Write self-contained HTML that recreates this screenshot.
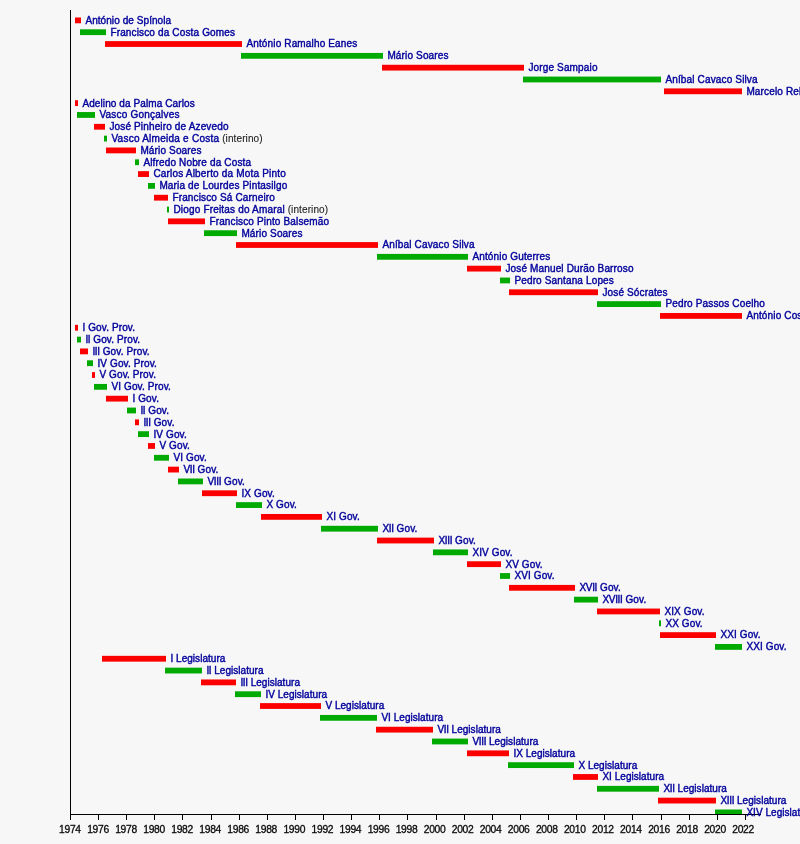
<!DOCTYPE html>
<html lang="pt">
<head>
<meta charset="utf-8">
<title>Cronologia – Presidentes, Primeiros-Ministros, Governos e Legislaturas de Portugal</title>
<style>
html,body{margin:0;padding:0;background:#f7f7f7;}
body{width:800px;height:844px;overflow:hidden;}
svg{display:block;}
text{font-family:"Liberation Sans",Arial,Helvetica,sans-serif;}
.l{font-size:10.0px;letter-spacing:0.15px;fill:#02029c;stroke:#02029c;stroke-width:0.4px;}
.lg{letter-spacing:0.04px;}
.gv{letter-spacing:0.12px;}
.ii{letter-spacing:-0.3px;}
.n{fill:#1c1c1c;stroke:#1c1c1c;stroke-width:0.1px;letter-spacing:0.1px;}
.a{font-size:10.3px;letter-spacing:-0.3px;fill:#0a0a0a;stroke:#0a0a0a;stroke-width:0.3px;text-anchor:middle;}
.r{fill:#fc0000;}
.g{fill:#00aa00;}
</style>
</head>
<body>
<svg width="800" height="844" viewBox="0 0 800 844">
<rect x="0" y="0" width="800" height="844" fill="#f7f7f7"/>

<g>
<rect class="r" x="75" y="17.48" width="6" height="5.80"/>
<rect class="g" x="80" y="29.30" width="26" height="5.80"/>
<rect class="r" x="105" y="41.12" width="137" height="5.80"/>
<rect class="g" x="241" y="52.94" width="142" height="5.80"/>
<rect class="r" x="382" y="64.77" width="142" height="5.80"/>
<rect class="g" x="523" y="76.59" width="138" height="5.80"/>
<rect class="r" x="664" y="88.41" width="78" height="5.80"/>
<rect class="r" x="75" y="100.23" width="3" height="5.80"/>
<rect class="g" x="77" y="112.05" width="18" height="5.80"/>
<rect class="r" x="94" y="123.87" width="11" height="5.80"/>
<rect class="g" x="104" y="135.69" width="3" height="5.80"/>
<rect class="r" x="106" y="147.52" width="30" height="5.80"/>
<rect class="g" x="135" y="159.34" width="4" height="5.80"/>
<rect class="r" x="138" y="171.16" width="11" height="5.80"/>
<rect class="g" x="148" y="182.98" width="7" height="5.80"/>
<rect class="r" x="154" y="194.80" width="14" height="5.80"/>
<rect class="g" x="167" y="206.62" width="2" height="5.80"/>
<rect class="r" x="168" y="218.44" width="37" height="5.80"/>
<rect class="g" x="204" y="230.27" width="33" height="5.80"/>
<rect class="r" x="236" y="242.09" width="142" height="5.80"/>
<rect class="g" x="377" y="253.91" width="91" height="5.80"/>
<rect class="r" x="467" y="265.73" width="34" height="5.80"/>
<rect class="g" x="500" y="277.55" width="10" height="5.80"/>
<rect class="r" x="509" y="289.37" width="89" height="5.80"/>
<rect class="g" x="597" y="301.19" width="64" height="5.80"/>
<rect class="r" x="660" y="313.02" width="82" height="5.80"/>
<rect class="r" x="75" y="324.84" width="3" height="5.80"/>
<rect class="g" x="77" y="336.66" width="4" height="5.80"/>
<rect class="r" x="80" y="348.48" width="8" height="5.80"/>
<rect class="g" x="87" y="360.30" width="6" height="5.80"/>
<rect class="r" x="92" y="372.12" width="3" height="5.80"/>
<rect class="g" x="94" y="383.94" width="13" height="5.80"/>
<rect class="r" x="106" y="395.76" width="22" height="5.80"/>
<rect class="g" x="127" y="407.59" width="9" height="5.80"/>
<rect class="r" x="135" y="419.41" width="4" height="5.80"/>
<rect class="g" x="138" y="431.23" width="11" height="5.80"/>
<rect class="r" x="148" y="443.05" width="7" height="5.80"/>
<rect class="g" x="154" y="454.87" width="15" height="5.80"/>
<rect class="r" x="168" y="466.69" width="11" height="5.80"/>
<rect class="g" x="178" y="478.51" width="25" height="5.80"/>
<rect class="r" x="202" y="490.34" width="35" height="5.80"/>
<rect class="g" x="236" y="502.16" width="26" height="5.80"/>
<rect class="r" x="261" y="513.98" width="61" height="5.80"/>
<rect class="g" x="321" y="525.80" width="57" height="5.80"/>
<rect class="r" x="377" y="537.62" width="57" height="5.80"/>
<rect class="g" x="433" y="549.44" width="35" height="5.80"/>
<rect class="r" x="467" y="561.26" width="34" height="5.80"/>
<rect class="g" x="500" y="573.09" width="10" height="5.80"/>
<rect class="r" x="509" y="584.91" width="66" height="5.80"/>
<rect class="g" x="574" y="596.73" width="24" height="5.80"/>
<rect class="r" x="597" y="608.55" width="63" height="5.80"/>
<rect class="g" x="659" y="620.37" width="2" height="5.80"/>
<rect class="r" x="660" y="632.19" width="56" height="5.80"/>
<rect class="g" x="715" y="644.01" width="27" height="5.80"/>
<rect class="r" x="102" y="655.84" width="64" height="5.80"/>
<rect class="g" x="165" y="667.66" width="37" height="5.80"/>
<rect class="r" x="201" y="679.48" width="35" height="5.80"/>
<rect class="g" x="235" y="691.30" width="26" height="5.80"/>
<rect class="r" x="260" y="703.12" width="61" height="5.80"/>
<rect class="g" x="320" y="714.94" width="57" height="5.80"/>
<rect class="r" x="376" y="726.76" width="57" height="5.80"/>
<rect class="g" x="432" y="738.59" width="36" height="5.80"/>
<rect class="r" x="467" y="750.41" width="42" height="5.80"/>
<rect class="g" x="508" y="762.23" width="66" height="5.80"/>
<rect class="r" x="573" y="774.05" width="25" height="5.80"/>
<rect class="g" x="597" y="785.87" width="62" height="5.80"/>
<rect class="r" x="658" y="797.69" width="58" height="5.80"/>
<rect class="g" x="715" y="809.51" width="27" height="4.99"/>
</g><g shape-rendering="crispEdges">
<rect x="70" y="10" width="1" height="805" fill="#000"/>
<rect x="70" y="814" width="691" height="1" fill="#000"/>
<rect x="70" y="815" width="1" height="5" fill="#000"/>
<rect x="98" y="815" width="1" height="5" fill="#000"/>
<rect x="126" y="815" width="1" height="5" fill="#000"/>
<rect x="154" y="815" width="1" height="5" fill="#000"/>
<rect x="182" y="815" width="1" height="5" fill="#000"/>
<rect x="211" y="815" width="1" height="5" fill="#000"/>
<rect x="239" y="815" width="1" height="5" fill="#000"/>
<rect x="267" y="815" width="1" height="5" fill="#000"/>
<rect x="295" y="815" width="1" height="5" fill="#000"/>
<rect x="323" y="815" width="1" height="5" fill="#000"/>
<rect x="351" y="815" width="1" height="5" fill="#000"/>
<rect x="379" y="815" width="1" height="5" fill="#000"/>
<rect x="407" y="815" width="1" height="5" fill="#000"/>
<rect x="436" y="815" width="1" height="5" fill="#000"/>
<rect x="464" y="815" width="1" height="5" fill="#000"/>
<rect x="492" y="815" width="1" height="5" fill="#000"/>
<rect x="520" y="815" width="1" height="5" fill="#000"/>
<rect x="548" y="815" width="1" height="5" fill="#000"/>
<rect x="576" y="815" width="1" height="5" fill="#000"/>
<rect x="604" y="815" width="1" height="5" fill="#000"/>
<rect x="632" y="815" width="1" height="5" fill="#000"/>
<rect x="661" y="815" width="1" height="5" fill="#000"/>
<rect x="689" y="815" width="1" height="5" fill="#000"/>
<rect x="717" y="815" width="1" height="5" fill="#000"/>
<rect x="745" y="815" width="1" height="5" fill="#000"/>
</g>
<text class="l" style="letter-spacing:0.07px" x="85.4" y="23.75">António de Spínola</text>
<text class="l" x="110.4" y="35.57">Francisco da Costa Gomes</text>
<text class="l" x="246.4" y="47.39">António Ramalho Eanes</text>
<text class="l" x="387.4" y="59.21">Mário Soares</text>
<text class="l" x="528.4" y="71.04">Jorge Sampaio</text>
<text class="l" x="665.4" y="82.86">Aníbal Cavaco Silva</text>
<text class="l" x="746.4" y="94.68">Marcelo Rebelo de Sousa</text>
<text class="l" style="letter-spacing:0.1px" x="82.4" y="106.50">Adelino da Palma Carlos</text>
<text class="l" style="letter-spacing:0.21px" x="99.4" y="118.32">Vasco Gonçalves</text>
<text class="l" x="109.4" y="130.14">José Pinheiro de Azevedo</text>
<text class="l" style="letter-spacing:0.25px" x="111.4" y="141.96">Vasco Almeida e Costa<tspan class="n"> (interino)</tspan></text>
<text class="l" x="140.4" y="153.79">Mário Soares</text>
<text class="l" x="143.4" y="165.61">Alfredo Nobre da Costa</text>
<text class="l" style="letter-spacing:0.19px" x="153.4" y="177.43">Carlos Alberto da Mota Pinto</text>
<text class="l" x="159.4" y="189.25">Maria de Lourdes Pintasilgo</text>
<text class="l" x="172.4" y="201.07">Francisco Sá Carneiro</text>
<text class="l" style="letter-spacing:0.18px" x="173.4" y="212.89">Diogo Freitas do Amaral<tspan class="n"> (interino)</tspan></text>
<text class="l" x="209.4" y="224.71">Francisco Pinto Balsemão</text>
<text class="l" x="241.4" y="236.54">Mário Soares</text>
<text class="l" x="382.4" y="248.36">Aníbal Cavaco Silva</text>
<text class="l" x="472.4" y="260.18">António Guterres</text>
<text class="l" x="505.4" y="272.00">José Manuel Durão Barroso</text>
<text class="l" x="514.4" y="283.82">Pedro Santana Lopes</text>
<text class="l" x="602.4" y="295.64">José Sócrates</text>
<text class="l" x="665.4" y="307.46">Pedro Passos Coelho</text>
<text class="l" x="746.4" y="319.29">António Costa</text>
<text class="l gv" x="82.4" y="331.11">I Gov. Prov.</text>
<text class="l gv" x="85.4" y="342.93"><tspan class="ii">II</tspan> Gov. Prov.</text>
<text class="l gv" x="92.4" y="354.75"><tspan class="ii">III</tspan> Gov. Prov.</text>
<text class="l gv" x="97.4" y="366.57">IV Gov. Prov.</text>
<text class="l gv" x="99.4" y="378.39">V Gov. Prov.</text>
<text class="l gv" x="111.4" y="390.21">VI Gov. Prov.</text>
<text class="l gv" x="132.4" y="402.03">I Gov.</text>
<text class="l gv" x="140.4" y="413.86"><tspan class="ii">II</tspan> Gov.</text>
<text class="l gv" x="143.4" y="425.68"><tspan class="ii">III</tspan> Gov.</text>
<text class="l gv" x="153.4" y="437.50">IV Gov.</text>
<text class="l gv" x="159.4" y="449.32">V Gov.</text>
<text class="l gv" x="173.4" y="461.14">VI Gov.</text>
<text class="l gv" x="183.4" y="472.96"><tspan class="ii">VII</tspan> Gov.</text>
<text class="l gv" x="207.4" y="484.78"><tspan class="ii">VIII</tspan> Gov.</text>
<text class="l gv" x="241.4" y="496.61">IX Gov.</text>
<text class="l gv" x="266.4" y="508.43">X Gov.</text>
<text class="l gv" x="326.4" y="520.25">XI Gov.</text>
<text class="l gv" x="382.4" y="532.07"><tspan class="ii">XII</tspan> Gov.</text>
<text class="l gv" x="438.4" y="543.89"><tspan class="ii">XIII</tspan> Gov.</text>
<text class="l gv" x="472.4" y="555.71">XIV Gov.</text>
<text class="l gv" x="505.4" y="567.53">XV Gov.</text>
<text class="l gv" x="514.4" y="579.36">XVI Gov.</text>
<text class="l gv" x="579.4" y="591.18"><tspan class="ii">XVII</tspan> Gov.</text>
<text class="l gv" x="602.4" y="603.00"><tspan class="ii">XVIII</tspan> Gov.</text>
<text class="l gv" x="664.4" y="614.82">XIX Gov.</text>
<text class="l gv" x="665.4" y="626.64">XX Gov.</text>
<text class="l gv" x="720.4" y="638.46">XXI Gov.</text>
<text class="l gv" x="746.4" y="650.28">XXI Gov.</text>
<text class="l lg" x="170.4" y="662.11">I Legislatura</text>
<text class="l lg" x="206.4" y="673.93"><tspan class="ii">II</tspan> Legislatura</text>
<text class="l lg" x="240.4" y="685.75"><tspan class="ii">III</tspan> Legislatura</text>
<text class="l lg" x="265.4" y="697.57">IV Legislatura</text>
<text class="l lg" x="325.4" y="709.39">V Legislatura</text>
<text class="l lg" x="381.4" y="721.21">VI Legislatura</text>
<text class="l lg" x="437.4" y="733.03"><tspan class="ii">VII</tspan> Legislatura</text>
<text class="l lg" x="472.4" y="744.86"><tspan class="ii">VIII</tspan> Legislatura</text>
<text class="l lg" x="513.4" y="756.68">IX Legislatura</text>
<text class="l lg" x="578.4" y="768.50">X Legislatura</text>
<text class="l lg" x="602.4" y="780.32">XI Legislatura</text>
<text class="l lg" x="663.4" y="792.14"><tspan class="ii">XII</tspan> Legislatura</text>
<text class="l lg" x="720.4" y="803.96"><tspan class="ii">XIII</tspan> Legislatura</text>
<text class="l lg" x="746.4" y="815.78">XIV Legislatura</text>
<text class="a" x="69.9" y="832.7">1974</text>
<text class="a" x="98.0" y="832.7">1976</text>
<text class="a" x="126.0" y="832.7">1978</text>
<text class="a" x="154.1" y="832.7">1980</text>
<text class="a" x="182.1" y="832.7">1982</text>
<text class="a" x="210.2" y="832.7">1984</text>
<text class="a" x="238.2" y="832.7">1986</text>
<text class="a" x="266.2" y="832.7">1988</text>
<text class="a" x="294.3" y="832.7">1990</text>
<text class="a" x="322.4" y="832.7">1992</text>
<text class="a" x="350.4" y="832.7">1994</text>
<text class="a" x="378.5" y="832.7">1996</text>
<text class="a" x="406.5" y="832.7">1998</text>
<text class="a" x="434.6" y="832.7">2000</text>
<text class="a" x="462.6" y="832.7">2002</text>
<text class="a" x="490.6" y="832.7">2004</text>
<text class="a" x="518.7" y="832.7">2006</text>
<text class="a" x="546.8" y="832.7">2008</text>
<text class="a" x="574.8" y="832.7">2010</text>
<text class="a" x="602.9" y="832.7">2012</text>
<text class="a" x="630.9" y="832.7">2014</text>
<text class="a" x="659.0" y="832.7">2016</text>
<text class="a" x="687.0" y="832.7">2018</text>
<text class="a" x="715.0" y="832.7">2020</text>
<text class="a" x="743.1" y="832.7">2022</text>
</svg>
</body>
</html>
